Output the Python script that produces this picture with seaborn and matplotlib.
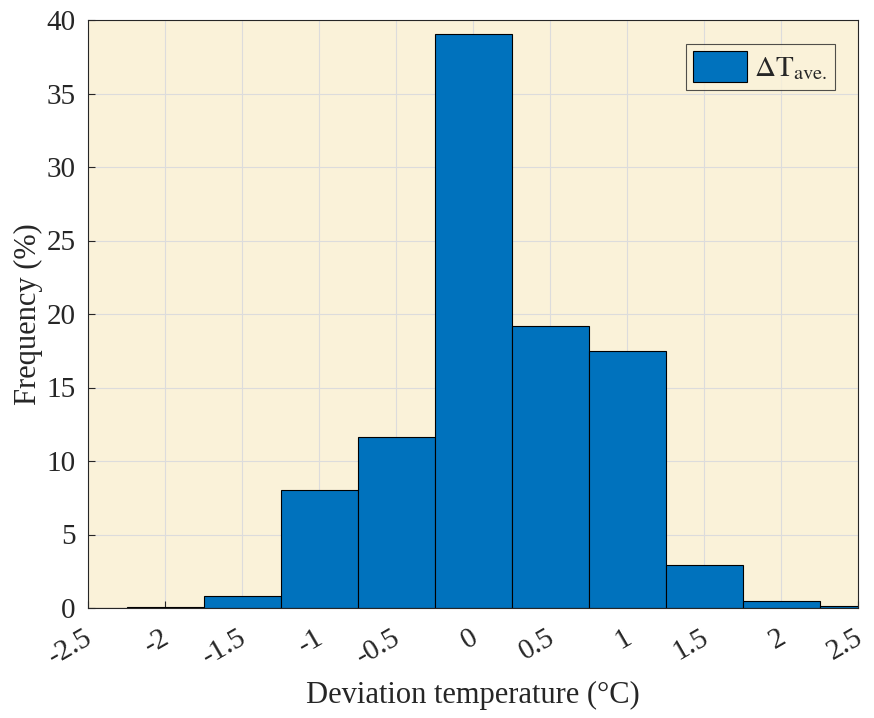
import numpy as np
import pandas as pd
import seaborn as sns
import matplotlib
matplotlib.use("Agg")
import matplotlib.pyplot as plt
import matplotlib.transforms as mtransforms

# histogram bins (centres, width 0.5) and frequency in %
bin_centers = [-2.5, -2.0, -1.5, -1.0, -0.5, 0.0, 0.5, 1.0, 1.5, 2.0, 2.5]
freq = [0.02, 0.05, 0.85, 8.0, 11.6, 39.05, 19.2, 17.5, 2.9, 0.5, 0.15]
bin_edges = [-2.75, -2.25, -1.75, -1.25, -0.75, -0.25, 0.25, 0.75, 1.25, 1.75, 2.25, 2.75]
x_ticks = [-2.5, -2, -1.5, -1, -0.5, 0, 0.5, 1, 1.5, 2, 2.5]
x_ticklabels = ["-2.5", "-2", "-1.5", "-1", "-0.5", "0", "0.5", "1", "1.5", "2", "2.5"]
y_ticks = [0, 5, 10, 15, 20, 25, 30, 35, 40]

df = pd.DataFrame({"deviation": bin_centers, "freq": freq})

sns.set_style("ticks")
plt.rcParams["font.family"] = ["Liberation Serif", "DejaVu Serif"]
plt.rcParams["mathtext.fontset"] = "stix"

fig = plt.figure(figsize=(8.74, 7.18), dpi=100)
ax = fig.add_axes([88 / 874, 1 - 608 / 718, 770 / 874, 588 / 718])
ax.set_facecolor("#FAF2D9")

sns.histplot(data=df, x="deviation", weights="freq", bins=bin_edges,
             color="#0072BD", alpha=1.0, edgecolor="black", linewidth=0.8,
             label=r"$\Delta\mathrm{T}_{\mathrm{ave.}}$", ax=ax)

ax.set_xlim(-2.5, 2.5)
ax.set_ylim(0, 40)
ax.set_yticks(y_ticks)
ax.grid(True, color="#DCDCDC", linewidth=0.8)
ax.set_axisbelow(True)
ax.tick_params(direction="in", length=5, width=0.8, color="#262626",
               labelsize=21, labelcolor="#262626")
ax.tick_params(axis="x", pad=12)
ax.tick_params(axis="y", pad=9)
for s in ax.spines.values():
    s.set_color("#262626")
    s.set_linewidth(0.8)

ax.set_xticks(x_ticks)
ax.set_xticklabels(x_ticklabels, rotation=30, ha="right", va="top")
# nudge rotated labels so their right end sits a bit past the tick
shift = mtransforms.ScaledTranslation(9 / 100, 0, fig.dpi_scale_trans)
for lab in ax.get_xticklabels():
    lab.set_transform(lab.get_transform() + shift)

ax.set_xlabel("Deviation temperature (°C)", fontsize=22, color="#262626", labelpad=8)
ax.set_ylabel("Frequency (%)", fontsize=22, color="#262626", labelpad=2)

leg = ax.legend(loc="upper right", fontsize=21, frameon=True, fancybox=False,
                handlelength=1.86, handleheight=1.24, handletextpad=0.25,
                borderpad=0.25, borderaxespad=0,
                bbox_to_anchor=(0.970, 0.959))
leg.get_frame().set_edgecolor("#262626")
leg.get_frame().set_facecolor("#FAF2D9")
leg.get_frame().set_linewidth(0.8)

fig.savefig("out.png", dpi=100)
